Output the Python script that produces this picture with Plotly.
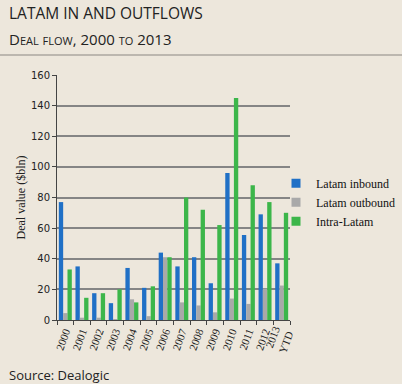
import plotly.graph_objects as go

categories = ["2000", "2001", "2002", "2003", "2004", "2005", "2006", "2007",
              "2008", "2009", "2010", "2011", "2012", "2013<br>YTD"]
latam_inbound = [77, 35, 17.5, 11, 34, 21, 44, 35, 41, 24, 96, 55.5, 69, 37]
latam_outbound = [4.5, 1.5, 1.5, 0.5, 13.5, 2.5, 41, 11.5, 9.5, 5, 14, 10.5, 20.5, 22.5]
intra_latam = [33, 14.5, 17.5, 20, 11.5, 22, 41, 80, 72, 62, 145, 88, 77, 70]

series_names = ["Latam inbound", "Latam outbound", "Intra-Latam"]
series_colors = ["#2070C6", "#A9A9A9", "#3CB64A"]

BG = "#EDE7DC"
serif = "Liberation Serif, Times New Roman, serif"
sans = "Open Sans, Noto Sans, sans-serif"

fig = go.Figure()
for name, vals, col in zip(series_names, [latam_inbound, latam_outbound, intra_latam], series_colors):
    fig.add_trace(go.Bar(x=categories, y=vals, name=name, marker_color=col,
                         marker_line_width=0, legendgroup=name, showlegend=False))
    # legend key (small square swatch like the reference)
    fig.add_trace(go.Scatter(x=[None], y=[None], mode="markers", name=name, legendgroup=name,
                             marker=dict(symbol="square", size=9, color=col), hoverinfo="skip"))

W, H = 402, 384
L, R, T, B = 57, 112, 75, 64
pw = W - L - R
ph = H - T - B

fig.update_layout(
    width=W, height=H,
    margin=dict(l=L, r=R, t=T, b=B, pad=0, autoexpand=False),
    paper_bgcolor=BG, plot_bgcolor=BG,
    barmode="group", bargap=0.22, bargroupgap=0,
    showlegend=True,
    legend=dict(x=(276 - L) / pw, xanchor="left", y=0.6175, yanchor="top",
                bgcolor="rgba(0,0,0,0)", font=dict(family=serif, size=12, color="#111"),
                tracegroupgap=0, traceorder="normal", borderwidth=0),
    font=dict(family=serif, color="#222"),
)

fig.update_xaxes(
    showgrid=False, showline=True, linecolor="#444", linewidth=1,
    ticks="outside", tickson="boundaries", ticklen=4, tickcolor="#444",
    tickangle=-70, tickfont=dict(family=serif, size=11, color="#222"),
)
fig.update_yaxes(
    range=[0, 160], dtick=20, showgrid=True, gridcolor="#858585", gridwidth=1.5,
    showline=True, linecolor="#444", linewidth=1,
    ticks="outside", ticklen=4, tickcolor="#444",
    tickfont=dict(family="DejaVu Sans, sans-serif", size=10, color="#222"),
    title=dict(text="Deal value ($bln)", font=dict(family=serif, size=12, color="#222"), standoff=2),
    zeroline=False,
)

# darker 120 gridline as in the reference
fig.add_shape(type="line", xref="paper", yref="y", x0=0, x1=1, y0=120, y1=120,
              line=dict(color="#111", width=1.2), layer="below")

# header rule
fig.add_shape(type="line", xref="paper", yref="paper",
              x0=-L / pw, x1=(W - L) / pw, y0=(H - B - 55) / ph, y1=(H - B - 55) / ph,
              line=dict(color="#8C8782", width=1.2))

fig.add_annotation(text="LATAM IN AND OUTFLOWS", xref="paper", yref="paper",
                   x=-(L - 7) / pw, y=(H - B - 13) / ph, xanchor="left", yanchor="middle",
                   showarrow=False, font=dict(family=sans, size=15.5, color="#222"))
fig.add_annotation(text="Deal flow, 2000 to 2013", xref="paper", yref="paper",
                   x=-(L - 7) / pw, y=(H - B - 39) / ph, xanchor="left", yanchor="middle",
                   showarrow=False, font=dict(family=sans, size=15, color="#222", variant="small-caps"))
fig.add_annotation(text="Source: Dealogic", xref="paper", yref="paper",
                   x=-(L - 7) / pw, y=(H - B - 375) / ph, xanchor="left", yanchor="middle",
                   showarrow=False, font=dict(family=sans, size=13, color="#222"))

fig.write_html("out.html", config={"displayModeBar": False},
               post_script="document.body.style.margin='0';document.body.style.overflow='hidden';"
                           "document.body.style.background='%s';" % BG)
